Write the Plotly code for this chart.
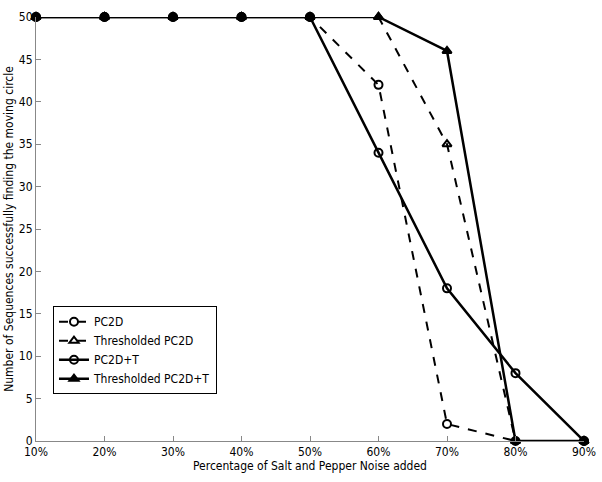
import plotly.graph_objects as go

noise = [10, 20, 30, 40, 50, 60, 70, 80, 90]
tick_labels = ["10%", "20%", "30%", "40%", "50%", "60%", "70%", "80%", "90%"]
pc2d = [50, 50, 50, 50, 50, 42, 2, 0, 0]
thr_pc2d = [50, 50, 50, 50, 50, 50, 35, 0, 0]
pc2d_t = [50, 50, 50, 50, 50, 34, 18, 8, 0]
thr_pc2d_t = [50, 50, 50, 50, 50, 50, 46, 0, 0]

series = [
    ("PC2D", pc2d, "dash", "circle-open", 2),
    ("Thresholded PC2D", thr_pc2d, "dash", "triangle-up-open", 2),
    ("PC2D+T", pc2d_t, "solid", "circle-open", 2.5),
    ("Thresholded PC2D+T", thr_pc2d_t, "solid", "triangle-up", 2.5),
]

FONT = "Liberation Sans Narrow, Arial Narrow, DejaVu Sans Condensed, sans-serif"

fig = go.Figure()
for name, vals, dash, sym, w in series:
    fig.add_trace(go.Scatter(
        x=noise, y=vals, name=name, mode="lines+markers",
        line=dict(color="black", width=w, dash=dash),
        marker=dict(symbol=sym, size=8, color="black", line=dict(color="black", width=2)),
        cliponaxis=False,
    ))

axis_common = dict(
    showgrid=False, zeroline=False, showline=True, linecolor="#888888", linewidth=1,
    ticks="inside", ticklen=5, tickcolor="#888888", mirror=False, automargin=False,
    tickfont=dict(family=FONT, size=12, color="black"),
)
fig.update_xaxes(range=[10, 90], tickvals=noise, ticktext=tick_labels,
                 title=dict(text="Percentage of Salt and Pepper Noise added", standoff=2,
                            font=dict(family=FONT, size=12, color="black")),
                 **axis_common)
fig.update_yaxes(range=[0, 50], tickvals=list(range(0, 51, 5)), ticklabelstandoff=0,
                 title=dict(text="Number of Sequences successfully finding the moving circle", standoff=2,
                            font=dict(family=FONT, size=12, color="black")),
                 **axis_common)

fig.update_layout(
    width=602, height=482,
    margin=dict(l=36, r=18, t=17, b=41),
    paper_bgcolor="white", plot_bgcolor="white",
    showlegend=True,
    legend=dict(x=0.031, y=0.318, xanchor="left", yanchor="top",
                bgcolor="white", bordercolor="black", borderwidth=1,
                font=dict(family=FONT, size=12, color="black"),
                tracegroupgap=0, itemwidth=30),
)

fig.write_html("out.html")
